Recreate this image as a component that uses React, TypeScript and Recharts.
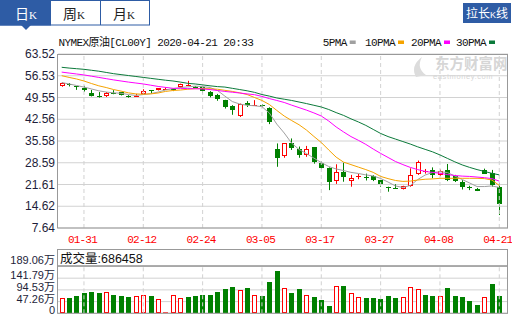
import React from 'react';
import { Bar, CartesianGrid, ComposedChart, Line, ReferenceLine, XAxis, YAxis } from 'recharts';

const dates = [
  '01-28', '01-29', '01-30', '01-31', '02-03', '02-04', '02-05', '02-06', '02-07', '02-10',
  '02-11', '02-12', '02-13', '02-14', '02-17', '02-18', '02-19', '02-20', '02-21', '02-24',
  '02-25', '02-26', '02-27', '02-28', '03-02', '03-03', '03-04', '03-05', '03-06', '03-09',
  '03-10', '03-11', '03-12', '03-13', '03-16', '03-17', '03-18', '03-19', '03-20', '03-23',
  '03-24', '03-25', '03-26', '03-27', '03-30', '03-31', '04-01', '04-02', '04-03', '04-06',
  '04-07', '04-08', '04-09', '04-13', '04-14', '04-15', '04-16', '04-17', '04-20', '04-21',
];

const open = [
  53.2, 53.9, 53.1, 52.7, 50.9, 50.0, 49.9, 51.1, 51.2, 49.9,
  49.9, 50.7, 51.9, 51.9, 52.3, 52.2, 52.8, 53.6, 53.0, 52.9,
  51.4, 50.3, 48.7, 46.7, 43.6, 47.9, 46.9, 47.1, 46.2, 32.9,
  30.5, 34.8, 33.1, 31.1, 33.5, 28.6, 27.0, 22.7, 25.6, 22.7,
  23.9, 24.1, 24.3, 23.0, 20.8, 20.6, 20.2, 21.2, 25.0, 25.9,
  26.3, 24.6, 26.3, 24.3, 22.5, 20.8, 20.3, 26.4, 25.2, 20.9,
];
const high = [
  54.4, 54.2, 53.2, 53.3, 52.0, 51.3, 51.3, 51.9, 51.3, 50.3,
  50.7, 52.2, 51.9, 52.6, 52.8, 52.5, 54.0, 54.9, 53.2, 53.0,
  51.6, 50.7, 48.8, 47.1, 47.6, 48.4, 48.7, 47.3, 46.4, 34.8,
  34.9, 36.4, 33.8, 34.0, 33.6, 29.1, 27.1, 28.1, 28.6, 24.7,
  25.0, 25.1, 24.6, 23.1, 20.9, 21.7, 21.2, 26.8, 29.3, 26.6,
  27.1, 26.4, 28.2, 24.7, 23.0, 21.2, 20.5, 26.7, 26.3, 22.0,
];
const low = [
  53.0, 53.1, 52.0, 51.4, 49.9, 49.5, 49.7, 50.6, 50.2, 49.5,
  49.8, 50.5, 51.0, 51.8, 52.2, 51.6, 52.7, 53.5, 52.7, 50.9,
  49.6, 48.5, 46.0, 44.0, 43.3, 46.5, 46.9, 46.6, 41.0, 27.3,
  30.2, 32.7, 30.2, 30.5, 28.3, 26.5, 19.8, 21.8, 22.5, 20.9,
  23.3, 22.9, 22.7, 20.9, 19.3, 20.4, 20.0, 20.9, 24.7, 25.1,
  23.6, 24.3, 22.7, 22.4, 20.0, 19.8, 19.5, 25.0, 20.9, 11.8,
];
const close = [
  54.2, 53.5, 53.0, 52.0, 50.0, 49.6, 51.0, 50.9, 50.3, 49.7,
  50.0, 51.7, 51.8, 52.5, 52.4, 51.9, 53.9, 53.7, 52.9, 51.7,
  50.0, 49.0, 46.6, 45.3, 47.5, 47.1, 47.0, 46.8, 41.6, 30.0,
  34.8, 33.1, 31.2, 32.9, 28.6, 27.0, 22.6, 25.7, 23.9, 23.7,
  24.2, 23.8, 23.0, 21.6, 20.6, 20.5, 21.1, 24.6, 28.9, 26.1,
  24.6, 26.0, 23.0, 22.7, 20.9, 20.5, 19.7, 25.2, 21.4, 15.6,
];

const ma5 = [
  54.35, 53.9, 53.4, 52.9, 52.3, 51.7, 51.3, 51.05, 50.9, 50.5,
  50.2, 50.5, 50.8, 51.3, 51.95, 52.4, 52.75, 52.95, 53.2, 53.05,
  52.75, 51.8, 50.0, 48.25, 47.45, 47.05, 46.9, 46.6, 44.55, 41.0,
  38.15, 34.9, 32.85, 31.55, 30.1, 28.65, 27.4, 26.6, 26.1, 25.5,
  25.15, 24.7, 24.35, 23.55, 22.4, 21.15, 20.65, 21.3, 23.2, 24.65,
  25.45, 25.7, 25.45, 24.35, 23.2, 22.1, 20.95, 20.95, 21.15, 20.65,
];
const ma10 = [
  56.55, 56.0, 55.5, 54.85, 54.05, 53.3, 52.75, 52.1, 51.6, 51.05,
  50.7, 50.6, 50.7, 51.0, 51.5, 51.8, 51.95, 52.2, 52.4, 52.45,
  52.35, 52.2, 51.85, 51.5, 51.05, 50.5, 49.55, 48.6, 47.3, 45.4,
  43.6, 42.15, 40.8, 39.1, 37.05, 35.1, 32.7, 30.4, 28.8, 28.0,
  27.2, 26.4, 25.5, 24.2, 23.5, 22.9, 22.6, 22.7, 23.05, 23.3,
  23.4, 23.6, 23.6, 23.6, 23.6, 23.6, 23.6, 23.5, 23.05, 21.3,
];
const ma20 = [
  57.7, 57.4, 57.1, 56.8, 56.4, 56.0, 55.6, 55.2, 54.85, 54.5,
  54.2, 53.9, 53.5, 53.1, 52.8, 52.5, 52.5, 52.4, 52.35, 52.3,
  52.1, 51.8, 51.5, 51.25, 51.0, 50.7, 50.45, 49.9, 49.2, 48.6,
  47.95, 47.1, 46.3, 45.5, 44.6, 43.6, 42.0, 40.1, 38.5, 37.0,
  35.8, 34.5, 33.0, 31.6, 30.3, 29.0, 28.0, 27.1, 26.4, 25.8,
  25.5, 25.2, 24.8, 24.5, 24.3, 24.2, 24.0, 23.8, 23.5, 22.7,
];
const ma30 = [
  59.25, 59.0, 58.8, 58.6, 58.3, 58.0, 57.6, 57.2, 56.9, 56.6,
  56.3, 56.0, 55.7, 55.4, 55.1, 54.85, 54.5, 54.1, 53.9, 53.6,
  53.3, 53.05, 52.9, 52.5, 52.1, 51.7, 51.2, 50.5, 50.0, 49.4,
  49.0, 48.6, 48.1, 47.6, 47.05, 46.5, 45.7, 44.7, 43.8, 42.7,
  41.7, 40.6, 39.3, 38.0, 37.0, 36.2, 35.4, 34.6, 33.7, 32.9,
  32.1, 31.1, 30.0, 28.9, 27.9, 27.1, 26.4, 25.8, 25.2, 24.7,
];

// volume in 万
const volume = [
  61, 61, 70.5, 82.7, 86.8, 82.7, 85.6, 74.6, 70.5, 66.4,
  69.3, 73.3, 70.5, 57, 1.5, 73.3, 61, 65.2, 70.5, 73.3,
  74.6, 86.8, 99, 107, 93.7, 103, 73.3, 70.5, 124.7, 172,
  102, 82.7, 99, 73.3, 66.4, 54, 30, 110, 111, 81.5,
  65.2, 62.3, 62.3, 58.2, 70.5, 63.6, 65.2, 106, 97.8, 74.6,
  70.5, 70.5, 103, 70.5, 66.4, 50, 34, 65.2, 119.4, 68.65,
];
// 1 = red (up vs previous close), 0 = green
const volRise = [
  1, 0, 0, 0, 0, 0, 1, 0, 0, 0,
  1, 1, 0, 1, 1, 1, 1, 0, 0, 0,
  0, 0, 0, 0, 1, 0, 1, 0, 0, 0,
  1, 0, 0, 1, 0, 0, 0, 1, 0, 1,
  1, 0, 0, 0, 0, 0, 1, 1, 1, 0,
  0, 1, 0, 0, 0, 0, 0, 1, 0, 0,
];

const tickDates = ['01-31', '02-12', '02-24', '03-05', '03-17', '03-27', '04-08', '04-21'];
const priceTicks = [7.64, 14.62, 21.61, 28.59, 35.58, 42.56, 49.55, 56.53, 63.52];
const volTicks = [0, 47.26, 94.53, 141.79, 189.06];

const data = dates.map((date, i) => ({
  date,
  open: open[i],
  high: high[i],
  low: low[i],
  close: close[i],
  range: [low[i], high[i]],
  ma5: ma5[i],
  ma10: ma10[i],
  ma20: ma20[i],
  ma30: ma30[i],
  vol: volume[i],
  rise: volRise[i] === 1,
}));

const RED = '#ff0000';
const GREEN = '#008000';
const BLUE = '#2e5ca5';
const FRAME = '#999999';
const GRID = '#d2d2d2';
const MONO = '"Liberation Mono", "Noto Sans CJK SC", monospace';
const SANS = '"Liberation Sans", "Noto Sans CJK SC", sans-serif';

function Candle(props: any) {
  const { x, y, width, height, payload } = props;
  if (x == null || y == null || !payload) return null;
  const { open: o, close: c, high: h, low: l } = payload;
  const up = c >= o;
  const color = up ? RED : GREEN;
  const mid = Math.round(x + width / 2);
  const k = h - l > 0 ? height / (h - l) : 0;
  const py = (v: number) => y + (h - v) * k;
  const top = py(Math.max(o, c));
  const bot = py(Math.min(o, c));
  const bodyH = bot - top;
  let body;
  if (bodyH < 1.5) {
    body = <rect x={mid - 2} y={Math.round(top)} width={5} height={1} fill={color} />;
  } else if (up) {
    body = (
      <rect x={mid - 1.5} y={Math.round(top) + 0.5} width={4} height={Math.max(Math.round(bodyH) - 1, 1)} fill="#fff" stroke={color} />
    );
  } else {
    body = <rect x={mid - 2} y={Math.round(top)} width={5} height={Math.max(Math.round(bodyH), 1)} fill={color} />;
  }
  return (
    <g>
      <line x1={mid + 0.5} x2={mid + 0.5} y1={y} y2={y + height} stroke={color} strokeWidth={1} />
      {body}
    </g>
  );
}

function VolBar(props: any) {
  const { x, y, width, height, payload } = props;
  if (x == null || y == null || !payload) return null;
  const mid = Math.round(x + width / 2);
  if (height < 2) {
    return <rect x={mid - 2} y={y + height - 1} width={5} height={1} fill={payload.rise ? RED : GREEN} />;
  }
  if (payload.rise) {
    return <rect x={mid - 1.5} y={Math.round(y) + 0.5} width={4} height={Math.round(height) - 1} fill="#fff" stroke={RED} />;
  }
  return <rect x={mid - 2} y={Math.round(y)} width={5} height={Math.round(height)} fill={GREEN} />;
}

const DateTick = ({ x, y, payload }: any) =>
  tickDates.includes(payload.value) ? (
    <text x={x - 1.5} y={y + 11} textAnchor="middle" fill={RED} fontSize={11} fontFamily={MONO} letterSpacing={-0.8}>
      {payload.value}
    </text>
  ) : null;

const PriceTick = ({ x, y, payload }: any) => (
  <text x={x} y={y + 4} textAnchor="end" fill="#1e1e3a" fontSize={12} fontFamily={SANS}>
    {Number(payload.value).toFixed(2)}
  </text>
);

const VolTick = ({ x, y, payload }: any) => {
  const v = Number(payload.value);
  const label = v === 0 ? '0' : `${v.toFixed(2)}万`;
  const dy = v === volTicks[volTicks.length - 1] ? -2 : 1;
  return (
    <text x={x} y={y + dy} textAnchor="end" fill="#1e1e3a" fontSize={11} fontFamily={SANS}>
      {label}
    </text>
  );
};

const maLines = [
  { key: 'ma5', name: '5PMA', color: '#a0a0a0' },
  { key: 'ma10', name: '10PMA', color: '#f5a300' },
  { key: 'ma20', name: '20PMA', color: '#ff00ff' },
  { key: 'ma30', name: '30PMA', color: '#0b7a3a' },
];
const legendX = [322.7, 365, 411, 456];

export default function App() {
  return (
    <div style={{ position: 'absolute', left: 0, top: 0, width: 512, height: 318, background: '#fff', overflow: 'hidden' }}>
      <div style={{ position: 'absolute', left: 0, top: 0 }}>
        <ComposedChart width={512} height={250} data={data} margin={{ top: 54, right: 4, bottom: 0, left: 0 }}>
          <CartesianGrid vertical={false} stroke={GRID} />
          {tickDates.map((d) => (
            <ReferenceLine key={d} x={d} stroke={GRID} strokeDasharray="4 3" />
          ))}
          <XAxis
            dataKey="date"
            interval={0}
            padding={{ left: 0, right: 5 }}
            height={22}
            tickLine={false}
            axisLine={false}
            tickSize={0}
            tickMargin={4}
            tick={<DateTick />}
          />
          <YAxis
            domain={[7.64, 63.52]}
            ticks={priceTicks}
            interval={0}
            allowDataOverflow
            width={58}
            tickLine={false}
            axisLine={false}
            tickSize={0}
            tickMargin={3}
            tick={<PriceTick />}
          />
          <Bar dataKey="range" barSize={5} shape={<Candle />} isAnimationActive={false} />
          {maLines.map((m) => (
            <Line
              key={m.key}
              dataKey={m.key}
              type="linear"
              stroke={m.color}
              strokeWidth={1}
              dot={false}
              activeDot={false}
              isAnimationActive={false}
            />
          ))}
        </ComposedChart>
      </div>

      <div style={{ position: 'absolute', left: 0, top: 240 }}>
        <ComposedChart width={512} height={78} data={data} margin={{ top: 26, right: 4, bottom: 4.7, left: 0 }}>
          <CartesianGrid vertical={false} stroke={GRID} />
          {tickDates.map((d) => (
            <ReferenceLine key={d} x={d} stroke={GRID} strokeDasharray="4 3" />
          ))}
          <XAxis dataKey="date" hide height={0} padding={{ left: 0, right: 5 }} />
          <YAxis
            domain={[0, 191]}
            ticks={volTicks}
            interval={0}
            allowDataOverflow
            width={58}
            tickLine={false}
            axisLine={false}
            tickSize={0}
            tickMargin={3}
            tick={<VolTick />}
          />
          <Bar dataKey="vol" barSize={5} shape={<VolBar />} isAnimationActive={false} />
        </ComposedChart>
      </div>

      <svg width={512} height={318} style={{ position: 'absolute', left: 0, top: 0, pointerEvents: 'none' }}>
        {/* tabs */}
        <rect x={0.5} y={0.5} width={149} height={24.5} fill="none" stroke={BLUE} />
        <rect x={0} y={0} width={51} height={25.5} fill={BLUE} />
        <line x1={100.5} x2={100.5} y1={0} y2={25} stroke={BLUE} />
        <polygon points="21,25 31,25 26,30" fill={BLUE} />
        <text x={15} y={19} fontSize={14} fontFamily={SANS} fill="#fff">
          日<tspan fontSize={11} fontFamily='"Liberation Serif", serif'>K</tspan>
        </text>
        <text x={63} y={19} fontSize={14} fontFamily={SANS} fill="#222">
          周<tspan fontSize={11} fontFamily='"Liberation Serif", serif'>K</tspan>
        </text>
        <text x={113} y={19} fontSize={14} fontFamily={SANS} fill="#222">
          月<tspan fontSize={11} fontFamily='"Liberation Serif", serif'>K</tspan>
        </text>
        <rect x={463} y={3} width={48} height={20} fill={BLUE} />
        <text x={487} y={17.5} textAnchor="middle" fontSize={12} fontFamily={SANS} fill="#fff">
          拉长<tspan fontSize={9}>K</tspan>线
        </text>

        {/* title and legend */}
        <text x={58.5} y={46} fontSize={11} fontFamily={MONO} letterSpacing={-0.6} fill="#111">
          NYMEX原油[CL00Y] 2020-04-21 20:33
        </text>
        {maLines.map((m, i) => (
          <g key={m.key}>
            <text x={legendX[i]} y={46} fontSize={11} fontFamily={MONO} letterSpacing={-0.6} fill="#111">
              {m.name}
            </text>
            <rect x={legendX[i] + m.name.length * 6 + 3} y={40.5} width={6} height={3.5} fill={m.color} />
          </g>
        ))}

        {/* watermark */}
        <path d="M416 77 Q410 66 422 57 Q416 68 426 75 Z" fill="#dcdcdc" />
        <text x={435} y={69} fontSize={14.5} fontWeight="bold" fontFamily={SANS} fill="#d6d6d6">
          东方财富网
        </text>
        <text x={433} y={79} fontSize={7.5} fontFamily={SANS} fill="#d6d6d6" letterSpacing={0.6}>
          eastmoney.com
        </text>

        {/* frames */}
        <rect x={57.5} y={54.5} width={450} height={173.5} fill="none" stroke={FRAME} />
        <rect x={57.5} y={249.5} width={450} height={16.5} fill="none" stroke={FRAME} />
        <rect x={57.5} y={266} width={450} height={47.3} fill="none" stroke={FRAME} />
        <text x={60} y={262.5} fontSize={12.5} fontFamily={SANS} fill="#111">
          成交量:686458
        </text>
      </svg>
    </div>
  );
}
